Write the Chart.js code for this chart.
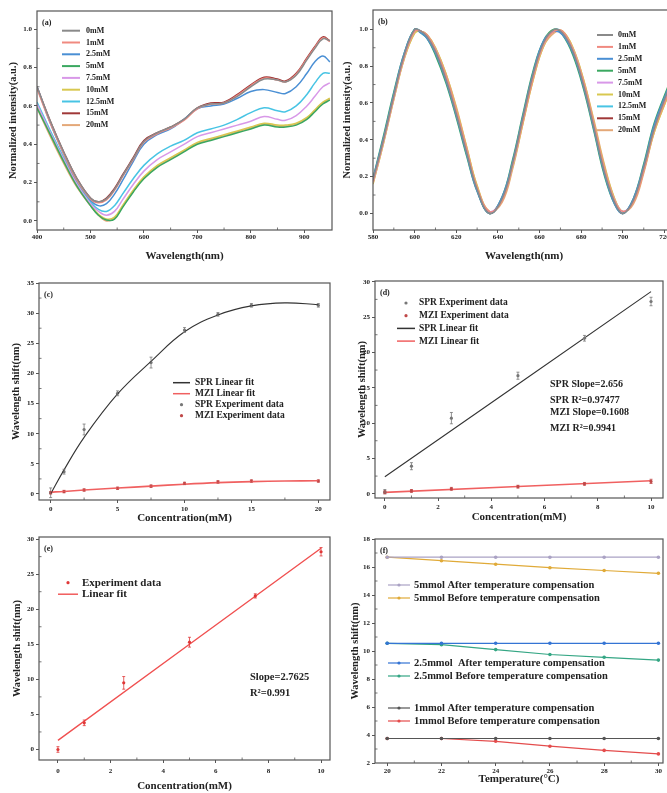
<!DOCTYPE html>
<html>
<head>
<meta charset="utf-8">
<script src="https://cdn.jsdelivr.net/npm/chart.js@4.4.0/dist/chart.umd.min.js"></script>
<style>
    html, body { margin: 0; padding: 0; background: #fff; }
    body { width: 667px; height: 793px; overflow: hidden; position: relative; }
    canvas { position: absolute; }
</style>
</head>
<body>
<canvas id="ca"></canvas>
<canvas id="cb"></canvas>
<canvas id="cc"></canvas>
<canvas id="cd"></canvas>
<canvas id="ce"></canvas>
<canvas id="cf"></canvas>
<script>
// --- Data ---
// (a) SPR spectra
const aWave = [400, 425, 450, 475, 500, 515, 530, 545, 560, 580, 600, 625, 650, 675, 700, 725, 750, 775, 800, 825, 850, 865, 885, 905, 920, 935, 948];
const a0mM = [.70, .52, .36, .22, .12, .10, .115, .165, .235, .325, .415, .46, .49, .53, .59, .61, .615, .65, .70, .74, .735, .725, .76, .84, .90, .95, .94];
const a1mM = [.69, .51, .35, .21, .115, .095, .11, .16, .23, .32, .41, .455, .485, .525, .585, .61, .615, .655, .705, .745, .735, .725, .765, .845, .905, .955, .935];
const a2_5mM = [.70, .51, .35, .21, .11, .08, .09, .14, .21, .31, .40, .45, .48, .53, .585, .60, .61, .64, .675, .685, .67, .665, .70, .77, .83, .86, .83];
const a5mM = [.59, .45, .31, .18, .08, .03, .005, .01, .07, .15, .22, .28, .32, .36, .40, .42, .44, .46, .48, .50, .49, .49, .50, .53, .57, .61, .63];
const a7_5mM = [.61, .46, .32, .19, .09, .05, .03, .05, .11, .19, .26, .32, .36, .40, .44, .46, .48, .50, .52, .545, .53, .525, .55, .60, .65, .70, .72];
const a10mM = [.60, .45, .31, .18, .085, .035, .01, .02, .08, .16, .23, .29, .33, .37, .41, .43, .45, .47, .49, .51, .50, .50, .51, .54, .58, .62, .64];
const a12_5mM = [.62, .47, .33, .20, .10, .06, .05, .08, .14, .22, .29, .35, .39, .42, .46, .48, .50, .53, .565, .59, .575, .57, .60, .66, .72, .77, .77];
const a15mM = [.70, .52, .36, .22, .12, .10, .12, .17, .24, .33, .42, .46, .49, .53, .59, .615, .62, .66, .71, .75, .74, .73, .77, .85, .91, .96, .94];
const a20mM = [.59, .44, .30, .175, .08, .03, .0, .015, .075, .155, .225, .285, .325, .365, .405, .425, .445, .465, .485, .505, .495, .495, .505, .535, .575, .615, .635];

// (b) MZI spectra
const bWave = [580, 585, 590, 595, 600, 603, 606, 610, 615, 620, 625, 630, 636, 642, 647, 652, 657, 662, 667, 671, 676, 681, 686, 691, 696, 700, 705, 710, 715, 722];
const b0mM = [.18, .40, .64, .86, 1.0, .99, .96, .88, .73, .54, .33, .13, .0, .08, .27, .52, .76, .93, 1.0, .98, .88, .70, .47, .23, .06, .0, .07, .25, .46, .68];
const b1mM = [.17, .39, .63, .85, .99, .99, .97, .89, .75, .56, .35, .14, .01, .07, .26, .50, .74, .92, .99, .99, .89, .72, .49, .25, .07, .01, .06, .23, .45, .66];
const b2_5mM = [.19, .41, .65, .87, 1.0, .98, .95, .87, .72, .53, .32, .12, .0, .09, .28, .53, .77, .94, .99, .97, .87, .69, .46, .22, .05, .0, .08, .26, .48, .69];
const b5mM = [.19, .42, .66, .87, 1.0, .98, .95, .86, .71, .52, .31, .12, .0, .09, .29, .54, .78, .94, 1.0, .97, .86, .68, .45, .21, .05, .0, .08, .27, .49, .70];
const b7_5mM = [.17, .39, .63, .85, .99, .99, .96, .89, .74, .55, .34, .13, .01, .08, .26, .51, .75, .92, .99, .98, .89, .71, .48, .24, .07, .01, .07, .24, .46, .67];
const b10mM = [.16, .38, .62, .84, .98, .99, .97, .90, .76, .57, .36, .15, .01, .07, .25, .49, .73, .91, .99, .99, .90, .73, .50, .26, .08, .01, .06, .23, .44, .65];
const b12_5mM = [.18, .40, .64, .86, 1.0, .99, .96, .88, .73, .54, .33, .13, .0, .08, .27, .52, .76, .93, 1.0, .98, .88, .70, .47, .23, .06, .0, .07, .25, .47, .68];
const b15mM = [.17, .40, .64, .86, .99, .99, .96, .88, .74, .55, .34, .13, .0, .08, .27, .51, .75, .93, .99, .98, .88, .71, .48, .24, .06, .0, .07, .24, .46, .67];
const b20mM = [.16, .38, .62, .84, .98, .99, .97, .90, .76, .58, .36, .15, .01, .06, .24, .49, .73, .91, .98, .99, .90, .73, .51, .27, .08, .01, .05, .22, .44, .65];

const concLabels = ['0mM', '1mM', '2.5mM', '5mM', '7.5mM', '10mM', '12.5mM', '15mM', '20mM'];
const concColors = ['#8a8a8a', '#f08a80', '#4a8fd4', '#3aa860', '#d898e8', '#d8c850', '#48c4e4', '#a03838', '#e4a878'];

// (c) shift vs concentration, 0-20 mM
const cConc = [0, 1, 2.5, 5, 7.5, 10, 12.5, 15, 20];
const cSpr = [0.2, 3.7, 10.7, 16.7, 21.8, 27.2, 29.8, 31.3, 31.3];
const cSprErr = [0.8, 0.4, 0.9, 0.4, 0.9, 0.4, 0.3, 0.3, 0.3];
const cMzi = [0.2, 0.4, 0.66, 0.95, 1.3, 1.75, 2.0, 2.15, 2.15];
const cMziErr = [0.2, 0.2, 0.2, 0.2, 0.2, 0.2, 0.2, 0.2, 0.2];
const cFitConc = [0, 1, 2.5, 5, 7.5, 10, 12.5, 15, 17.5, 20];
const cSprFit = [0.0, 4.0, 9.4, 16.6, 22.0, 26.9, 29.7, 31.2, 31.7, 31.4];
const cMziFit = [0.3, 0.42, 0.65, 0.98, 1.3, 1.62, 1.88, 2.05, 2.15, 2.2];

// (d) linear range 0-10 mM
const dConc = [0, 1, 2.5, 5, 7.5, 10];
const dSpr = [0.3, 3.9, 10.7, 16.7, 22.0, 27.2];
const dSprErr = [0.3, 0.5, 0.8, 0.5, 0.4, 0.6];
const dMzi = [0.2, 0.4, 0.7, 1.0, 1.4, 1.75];
const dMziErr = [0.2, 0.2, 0.2, 0.2, 0.2, 0.3];
const dFitConc = [0, 10];
const dSprFit = [2.4, 28.6];
const dMziFit = [0.2, 1.85];

// (e) compensated result
const eConc = [0, 1, 2.5, 5, 7.5, 10];
const eVal = [0.0, 3.8, 9.5, 15.3, 21.9, 28.2];
const eErr = [0.4, 0.4, 0.9, 0.7, 0.3, 0.6];
const eFitConc = [0, 10];
const eFit = [1.3, 28.7];

// (f) temperature compensation
const fTemp = [20, 22, 24, 26, 28, 30];
const f5After = [16.7, 16.7, 16.7, 16.7, 16.7, 16.7];
const f5Before = [16.7, 16.45, 16.2, 15.95, 15.75, 15.55];
const f25After = [10.55, 10.55, 10.55, 10.55, 10.55, 10.55];
const f25Before = [10.55, 10.45, 10.1, 9.75, 9.55, 9.35];
const f1After = [3.75, 3.75, 3.75, 3.75, 3.75, 3.75];
const f1Before = [3.75, 3.75, 3.55, 3.2, 2.9, 2.65];

// --- Styling ---
const FONT = 'Liberation Serif';
const INK = '#222';
const FRAME = '#555';

function series(xs, ys) {
    return xs.map((x, i) => ({ x: x, y: ys[i] }));
}

// draws frame, minor ticks, error bars, legends, notes and the panel letter
const decoPlugin = {
    id: 'deco',
    afterDatasetsDraw(chart) {
        const ctx = chart.ctx;
        const ys = chart.scales.y;
        chart.data.datasets.forEach((ds, i) => {
            if (!ds.errors) return;
            const meta = chart.getDatasetMeta(i);
            ctx.save();
            ctx.strokeStyle = ds.borderColor;
            ctx.lineWidth = 0.8;
            meta.data.forEach((pt, j) => {
                const v = ds.data[j].y, e = ds.errors[j];
                const y1 = ys.getPixelForValue(v - e), y2 = ys.getPixelForValue(v + e);
                ctx.beginPath();
                ctx.moveTo(pt.x, y1); ctx.lineTo(pt.x, y2);
                ctx.moveTo(pt.x - 1.5, y1); ctx.lineTo(pt.x + 1.5, y1);
                ctx.moveTo(pt.x - 1.5, y2); ctx.lineTo(pt.x + 1.5, y2);
                ctx.stroke();
            });
            ctx.restore();
        });
    },
    afterDraw(chart, args, opts) {
        const ctx = chart.ctx;
        const a = chart.chartArea;
        const [ox, oy] = opts.origin;
        ctx.save();
        // frame
        ctx.strokeStyle = FRAME;
        ctx.lineWidth = 1.2;
        ctx.strokeRect(a.left, a.top, a.right - a.left, a.bottom - a.top);
        // minor ticks, pointing inward
        ctx.lineWidth = 0.8;
        const xs = chart.scales.x, ys = chart.scales.y;
        const xt = xs.ticks.map(t => t.value), yt = ys.ticks.map(t => t.value);
        for (let k = 0; k < xt.length - 1; k++) {
            const px = xs.getPixelForValue((xt[k] + xt[k + 1]) / 2);
            ctx.beginPath(); ctx.moveTo(px, a.bottom); ctx.lineTo(px, a.bottom - 2.5); ctx.stroke();
        }
        for (let k = 0; k < yt.length - 1; k++) {
            const py = ys.getPixelForValue((yt[k] + yt[k + 1]) / 2);
            ctx.beginPath(); ctx.moveTo(a.left, py); ctx.lineTo(a.left + 2.5, py); ctx.stroke();
        }
        // panel letter
        ctx.fillStyle = INK;
        ctx.font = 'bold 8px "' + FONT + '"';
        ctx.textBaseline = 'middle';
        ctx.textAlign = 'left';
        ctx.fillText(opts.label, a.left + 5, a.top + 12);
        // legends
        (opts.legends || []).forEach(lg => {
            ctx.font = 'bold ' + lg.size + 'px "' + FONT + '"';
            lg.items.forEach((it, n) => {
                const ds = chart.data.datasets[it.ds];
                const y = lg.y + n * lg.gap - oy;
                const x1 = lg.x1 - ox, x2 = lg.x2 - ox;
                if (it.kind !== 'marker') {
                    ctx.strokeStyle = ds.borderColor;
                    ctx.lineWidth = lg.lineWidth || 1.5;
                    ctx.beginPath(); ctx.moveTo(x1, y); ctx.lineTo(x2, y); ctx.stroke();
                }
                if (it.kind !== 'line') {
                    ctx.fillStyle = ds.pointBackgroundColor || ds.borderColor;
                    ctx.beginPath(); ctx.arc((x1 + x2) / 2, y, 1.6, 0, Math.PI * 2); ctx.fill();
                }
                ctx.fillStyle = INK;
                ctx.fillText(ds.label, lg.tx - ox, y);
            });
        });
        // text notes
        (opts.notes || []).forEach(nt => {
            ctx.font = 'bold ' + nt.size + 'px "' + FONT + '"';
            ctx.fillStyle = INK;
            ctx.fillText(nt.text, nt.x - ox, nt.y - oy);
        });
        ctx.restore();
    }
};

function makeChart(id, lay, datasets, ax, deco) {
    const [L, T, W, H] = lay.canvas;
    const [aL, aT, aR, aB] = lay.area;
    const canvas = document.getElementById(id);
    canvas.width = W;
    canvas.height = H;
    canvas.style.left = L + 'px';
    canvas.style.top = T + 'px';

    const tickFont = { family: FONT, size: 7, weight: 'bold' };
    const xTitleFont = { family: FONT, size: 11, weight: 'bold' };
    const yTitleFont = { family: FONT, size: 10.5, weight: 'bold' };

    function axis(a, isX) {
        const tf = isX ? xTitleFont : yTitleFont;
        const lh = tf.size * 1.2;
        return {
            type: 'linear',
            min: a.min,
            max: a.max,
            ticks: {
                stepSize: a.step,
                includeBounds: false,
                autoSkip: false,
                maxRotation: 0,
                color: INK,
                font: tickFont,
                padding: isX ? lay.xTickPad : 2,
                callback: a.fmt || (v => v)
            },
            grid: { display: true, drawOnChartArea: false, drawTicks: true, tickLength: 3, color: FRAME },
            border: { display: false },
            title: {
                display: true,
                text: a.title,
                color: INK,
                font: tf,
                padding: isX ? { top: 0, bottom: T + H - lay.xTitleY - lh / 2 }
                             : { top: lay.yTitleX - L - lh / 2, bottom: 0 }
            },
            afterFit: isX
                ? (s => { s.height = T + H - aB; s.paddingLeft = 0; s.paddingRight = 0; })
                : (s => { s.width = aL - L; s.paddingTop = 0; s.paddingBottom = 0; })
        };
    }

    deco.origin = [L, T];
    return new Chart(canvas, {
        type: 'line',
        data: { datasets: datasets },
        plugins: [decoPlugin],
        options: {
            responsive: false,
            animation: false,
            devicePixelRatio: 1,
            layout: { padding: { left: 0, top: aT - T, right: L + W - aR, bottom: 0 } },
            plugins: { legend: { display: false }, tooltip: { enabled: false }, deco: deco },
            scales: { x: axis(ax.x, true), y: axis(ax.y, false) }
        }
    });
}

function curve(label, xs, ys, color, width) {
    return { label: label, data: series(xs, ys), borderColor: color, borderWidth: width, pointRadius: 0, tension: 0.4, fill: false };
}

function dots(label, xs, ys, color, errs) {
    return { label: label, data: series(xs, ys), borderColor: color, pointBackgroundColor: color, showLine: false, pointRadius: 1.6, pointBorderWidth: 0, errors: errs };
}

// --- Panel (a) ---
const aData = [a0mM, a1mM, a2_5mM, a5mM, a7_5mM, a10mM, a12_5mM, a15mM, a20mM];
makeChart('ca',
    { canvas: [0, 0, 335, 262], area: [37, 11, 332, 230], yTitleX: 13, xTitleY: 256, xTickPad: 0 },
    aData.map((d, i) => curve(concLabels[i], aWave, d, concColors[i], 1.5)),
    {
        x: { min: 400, max: 952, step: 100, title: 'Wavelength(nm)' },
        y: { min: -0.047, max: 1.095, step: 0.2, title: 'Normalized intensity(a.u.)', fmt: v => v.toFixed(1) }
    },
    {
        label: '(a)',
        legends: [{ x1: 62, x2: 80, tx: 86, y: 30.7, gap: 11.8, size: 8, lineWidth: 2,
            items: concLabels.map((l, i) => ({ ds: i, kind: 'line' })) }]
    });

// --- Panel (b) ---
const bData = [b0mM, b1mM, b2_5mM, b5mM, b7_5mM, b10mM, b12_5mM, b15mM, b20mM];
makeChart('cb',
    { canvas: [335, 0, 345, 262], area: [373, 10, 675, 230], yTitleX: 347, xTitleY: 256, xTickPad: 0 },
    bData.map((d, i) => curve(concLabels[i], bWave, d, concColors[i], 1.5)),
    {
        x: { min: 580, max: 725, step: 20, title: 'Wavelength(nm)' },
        y: { min: -0.09, max: 1.105, step: 0.2, title: 'Normalized intensity(a.u.)', fmt: v => v.toFixed(1) }
    },
    {
        label: '(b)',
        legends: [{ x1: 597, x2: 613, tx: 618, y: 35, gap: 11.9, size: 8, lineWidth: 2,
            items: concLabels.map((l, i) => ({ ds: i, kind: 'line' })) }]
    });

// --- Panel (c) ---
makeChart('cc',
    { canvas: [0, 268, 335, 255], area: [39, 283, 330, 500], yTitleX: 16, xTitleY: 518, xTickPad: 1.5 },
    [
        curve('SPR Linear fit', cFitConc, cSprFit, '#333333', 1.1),
        curve('MZI Linear fit', cFitConc, cMziFit, '#f06060', 1.6),
        dots('SPR Experiment data', cConc, cSpr, '#777777', cSprErr),
        dots('MZI Experiment data', cConc, cMzi, '#c04848', cMziErr)
    ],
    {
        x: { min: -0.87, max: 20.87, step: 5, title: 'Concentration(mM)' },
        y: { min: -1, max: 35, step: 5, title: 'Wavelength shift(nm)' }
    },
    {
        label: '(c)',
        legends: [{ x1: 173, x2: 190, tx: 195, y: 382.7, gap: 11, size: 9.5, lineWidth: 1.5,
            items: [{ ds: 0, kind: 'line' }, { ds: 1, kind: 'line' }, { ds: 2, kind: 'marker' }, { ds: 3, kind: 'marker' }] }]
    });

// --- Panel (d) ---
makeChart('cd',
    { canvas: [335, 268, 332, 255], area: [375, 281, 663, 498], yTitleX: 362, xTitleY: 517, xTickPad: 2 },
    [
        dots('SPR Experiment data', dConc, dSpr, '#777777', dSprErr),
        dots('MZI Experiment data', dConc, dMzi, '#c04848', dMziErr),
        curve('SPR Linear fit', dFitConc, dSprFit, '#333333', 1.1),
        curve('MZI Linear fit', dFitConc, dMziFit, '#f06060', 1.6)
    ],
    {
        x: { min: -0.37, max: 10.45, step: 2, title: 'Concentration(mM)' },
        y: { min: -0.6, max: 30.1, step: 5, title: 'Wavelength shift(nm)' }
    },
    {
        label: '(d)',
        legends: [{ x1: 397, x2: 415, tx: 419, y: 303, gap: 12.7, size: 9.5, lineWidth: 1.5,
            items: [{ ds: 0, kind: 'marker' }, { ds: 1, kind: 'marker' }, { ds: 2, kind: 'line' }, { ds: 3, kind: 'line' }] }],
        notes: [
            { x: 550, y: 384, size: 10, text: 'SPR Slope=2.656' },
            { x: 550, y: 400, size: 10, text: 'SPR R²=0.97477' },
            { x: 550, y: 412, size: 10, text: 'MZI Slope=0.1608' },
            { x: 550, y: 428, size: 10, text: 'MZI R²=0.9941' }
        ]
    });

// --- Panel (e) ---
makeChart('ce',
    { canvas: [0, 528, 335, 265], area: [39, 537, 330, 760], yTitleX: 17, xTitleY: 786, xTickPad: 4 },
    [
        dots('Experiment data', eConc, eVal, '#e03838', eErr),
        curve('Linear fit', eFitConc, eFit, '#f05050', 1.4)
    ],
    {
        x: { min: -0.72, max: 10.34, step: 2, title: 'Concentration(mM)' },
        y: { min: -1.5, max: 30.3, step: 5, title: 'Wavelength shift(nm)' }
    },
    {
        label: '(e)',
        legends: [{ x1: 58, x2: 78, tx: 82, y: 582.7, gap: 11.5, size: 11, lineWidth: 1.4,
            items: [{ ds: 0, kind: 'marker' }, { ds: 1, kind: 'line' }] }],
        notes: [
            { x: 250, y: 677, size: 10.5, text: 'Slope=2.7625' },
            { x: 250, y: 693, size: 10.5, text: 'R²=0.991' }
        ]
    });

// --- Panel (f) ---
function tline(label, ys, color) {
    return { label: label, data: series(fTemp, ys), borderColor: color, pointBackgroundColor: color, borderWidth: 1.2, pointRadius: 1.8, pointBorderWidth: 0, tension: 0 };
}
makeChart('cf',
    { canvas: [335, 528, 332, 265], area: [375, 539, 663, 763], yTitleX: 355, xTitleY: 779, xTickPad: 1 },
    [
        tline('5mmol After temperature compensation', f5After, '#aaa2c4'),
        tline('5mmol Before temperature compensation', f5Before, '#e0aa38'),
        tline('2.5mmol  After temperature compensation', f25After, '#3474d4'),
        tline('2.5mmol Before temperature compensation', f25Before, '#34a684'),
        tline('1mmol After temperature compensation', f1After, '#555555'),
        tline('1mmol Before temperature compensation', f1Before, '#e44c4c')
    ],
    {
        x: { min: 19.55, max: 30.17, step: 2, title: 'Temperature(°C)' },
        y: { min: 2, max: 18, step: 2, title: 'Wavelength shift(nm)' }
    },
    {
        label: '(f)',
        legends: [
            { x1: 388, x2: 410, tx: 414, y: 585, gap: 13, size: 10.5, lineWidth: 1.2, items: [{ ds: 0, kind: 'both' }, { ds: 1, kind: 'both' }] },
            { x1: 388, x2: 410, tx: 414, y: 663, gap: 13, size: 10.5, lineWidth: 1.2, items: [{ ds: 2, kind: 'both' }, { ds: 3, kind: 'both' }] },
            { x1: 388, x2: 410, tx: 414, y: 708, gap: 13, size: 10.5, lineWidth: 1.2, items: [{ ds: 4, kind: 'both' }, { ds: 5, kind: 'both' }] }
        ]
    });
</script>
</body>
</html>
